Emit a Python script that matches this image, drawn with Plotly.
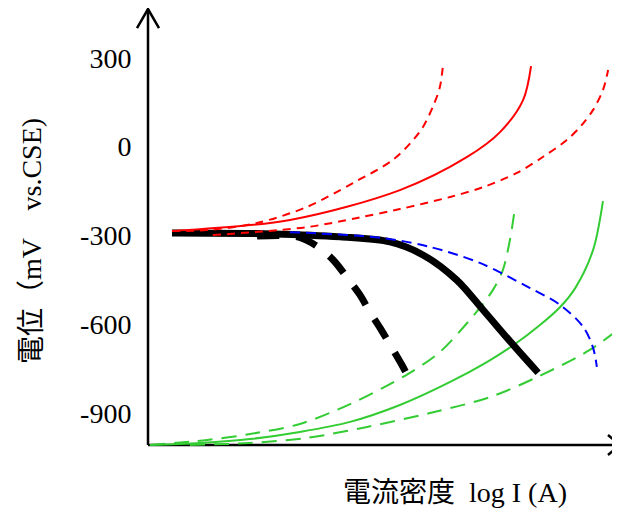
import plotly.graph_objects as go

# ---- data (x: log I, arbitrary units; y: potential in mV vs CSE) ----
red_solid_x = [0.51, 3.02, 5.36, 6.79, 7.49, 7.98, 8.15]
red_solid_y = [-285, -248, -147, -35, 49, 157, 272]

red_dash_a_x = [0.51, 1.26, 2.32, 3.38, 4.36, 5.21, 5.64, 5.85, 6.06, 6.21, 6.28]
red_dash_a_y = [-285, -282, -258, -204, -123, -45, 22, 66, 134, 201, 282]

red_dash_b_x = [1.38, 3.38, 4.45, 5.36, 6.43, 7.13, 7.85, 8.40, 8.91, 9.23, 9.47, 9.68, 9.79]
red_dash_b_y = [-299, -272, -241, -211, -170, -137, -89, -35, 22, 73, 124, 191, 259]

blue_dash_x = [3.02, 5.00, 6.00, 7.06, 8.13, 8.77, 9.26, 9.47, 9.55]
blue_dash_y = [-289, -309, -339, -393, -478, -535, -609, -680, -744]

black_solid_x = [0.51, 2.66, 4.09, 5.15, 5.85, 6.57, 7.13, 7.77, 8.30]
black_solid_y = [-292, -295, -305, -322, -366, -451, -552, -670, -764]

black_dash_x = [2.32, 3.19, 3.62, 3.94, 4.23, 4.51, 4.72, 4.94, 5.19, 5.40, 5.51]
black_dash_y = [-302, -305, -339, -383, -441, -501, -559, -613, -680, -737, -770]

green_dash_a_x = [0.04, 1.26, 2.17, 3.23, 4.30, 5.51, 6.21, 6.79, 7.11, 7.34, 7.55, 7.70, 7.81]
green_dash_a_y = [-1008, -991, -971, -937, -870, -770, -694, -596, -535, -484, -417, -316, -204]

green_solid_x = [0.04, 1.11, 2.17, 3.23, 4.30, 5.36, 6.43, 7.21, 7.81, 8.34, 8.77, 9.09, 9.47, 9.68]
green_solid_y = [-1008, -1001, -988, -964, -930, -873, -795, -728, -667, -603, -542, -478, -349, -184]

green_dash_b_x = [0.89, 2.17, 3.38, 4.66, 6.00, 7.28, 8.30, 9.40, 10.04]
green_dash_b_y = [-1008, -1001, -984, -947, -900, -846, -777, -687, -613]

y_tick_vals = [300, 0, -300, -600, -900]
y_tick_text = ["300", "0", "-300", "-600", "-900"]

y_title = "電位（mV\u3000vs.CSE)"
x_title = "電流密度\u00a0\u00a0log I (A)"

RED = "#ff0000"
GREEN = "#33cc33"
BLUE = "#0000ff"
BLACK = "#000000"

fig = go.Figure()


def add(x, y, color, width, dash="solid"):
    fig.add_trace(go.Scatter(
        x=x, y=y, mode="lines",
        line=dict(color=color, width=width, dash=dash, shape="spline", smoothing=0.9),
        hoverinfo="skip", showlegend=False,
    ))


add(green_dash_a_x, green_dash_a_y, GREEN, 2, "15px,9px")
add(green_solid_x, green_solid_y, GREEN, 2)
add(green_dash_b_x, green_dash_b_y, GREEN, 2, "15px,9px")
add(black_solid_x, black_solid_y, BLACK, 7)
add(black_dash_x, black_dash_y, BLACK, 7, "22px,17px")
add(blue_dash_x, blue_dash_y, BLUE, 2, "10px,6px")
add(red_solid_x, red_solid_y, RED, 2)
add(red_dash_a_x, red_dash_a_y, RED, 2, "8px,6px")
add(red_dash_b_x, red_dash_b_y, RED, 2, "8px,6px")

SERIF = "Liberation Serif, Noto Sans CJK JP, serif"

axis_line = dict(color=BLACK, width=2.5)
shapes = [
    # y axis with open arrow head
    dict(type="line", xref="paper", yref="paper", x0=0.01667, y0=0.03356, x1=0.01667, y1=1.00895, line=axis_line),
    dict(type="path", xref="paper", yref="paper",
         path="M -0.00625 0.96644 L 0.01667 1.00895 L 0.03958 0.96644", line=axis_line),
    # x axis with open arrow head
    dict(type="line", xref="paper", yref="paper", x0=0.01667, y0=0.03356, x1=1.0, y1=0.03356, line=axis_line),
    dict(type="path", xref="paper", yref="paper",
         path="M 0.975 0.05593 L 1.0 0.03356 L 0.975 0.01119", line=axis_line),
]
for s in shapes:
    s["layer"] = "below"

fig.update_layout(
    width=612, height=509,
    margin=dict(l=132, r=0, t=5, b=57),
    paper_bgcolor="white", plot_bgcolor="white",
    shapes=shapes,
    xaxis=dict(range=[-0.1702, 10.0426], showgrid=False, zeroline=False,
               showline=False, showticklabels=False, ticks=""),
    yaxis=dict(range=[-1058.7, 451.3], showgrid=False, zeroline=False,
               showline=False, tickvals=y_tick_vals, ticktext=y_tick_text,
               ticks="outside", ticklen=2, tickcolor="rgba(0,0,0,0)",
               tickfont=dict(family=SERIF, size=28, color=BLACK)),
    annotations=[
        dict(text=y_title, xref="paper", yref="paper", x=-0.225, y=0.490,
             xanchor="center", yanchor="middle", textangle=-90, showarrow=False,
             font=dict(family=SERIF, size=28, color=BLACK)),
        dict(text=x_title, xref="paper", yref="paper", x=0.656, y=-0.0716,
             xanchor="center", yanchor="middle", showarrow=False,
             font=dict(family=SERIF, size=28, color=BLACK)),
    ],
)

fig.write_html("out.html")
